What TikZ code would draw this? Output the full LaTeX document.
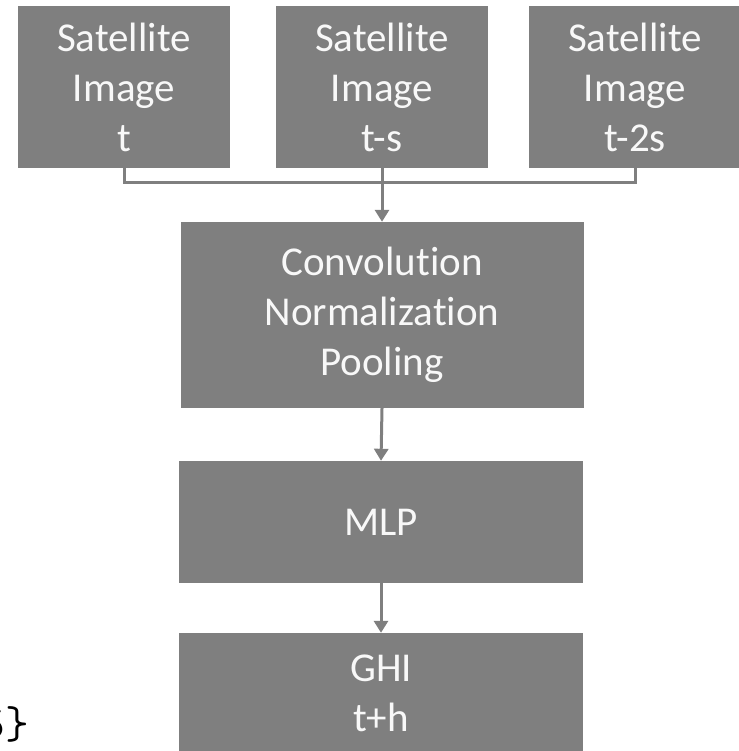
\documentclass[tikz,border=0pt]{standalone}
\usepackage{fontspec}
\setmainfont{Carlito}[Ligatures=NoCommon]
\usetikzlibrary{arrows.meta}
\definecolor{boxgray}{RGB}{127,127,127}
\definecolor{txtwhite}{RGB}{248,248,248}
\begin{document}
\begin{tikzpicture}[x=1pt,y=-1pt,
  blk/.style={fill=boxgray, draw=none, text=txtwhite, align=center, inner sep=0pt,
    font=\fontsize{41}{50}\selectfont},
  conn/.style={draw=boxgray, line width=3pt},
  arr/.style={conn, -{Triangle[width=14pt,length=12pt]}}]
\useasboundingbox (0,0) rectangle (738,751);
\node[blk, minimum width=212pt, minimum height=162pt] (s1) at (124,87) {Satellite\\Image\\t};
\node[blk, minimum width=212pt, minimum height=162pt] (s2) at (382,87) {Satellite\\Image\\t-s};
\node[blk, minimum width=212pt, minimum height=162pt] (s3) at (635,87) {Satellite\\Image\\t-2s};
\node[blk, minimum width=403pt, minimum height=186pt] (conv) at (382,315) {Convolution\\Normalization\\Pooling};
\node[blk, minimum width=404pt, minimum height=122pt] (mlp) at (381,522) {MLP};
\node[blk, minimum width=404pt, minimum height=120pt] (ghi) at (381,693) {GHI\\t+h};
\node[anchor=north east, inner sep=0pt, font=\fontsize{46}{50}\selectfont\ttfamily] (frag) at (29,706) {5\}};
\coordinate (j) at (s2.south |- 0,183);
\draw[conn] (s1.south) |- (j) -| (s3.south);
\draw[arr] (s2.south) -- (conv.north);
\draw[arr] (conv.south) -- (mlp.north);
\draw[arr] (mlp.south) -- (ghi.north);
\end{tikzpicture}
\end{document}
